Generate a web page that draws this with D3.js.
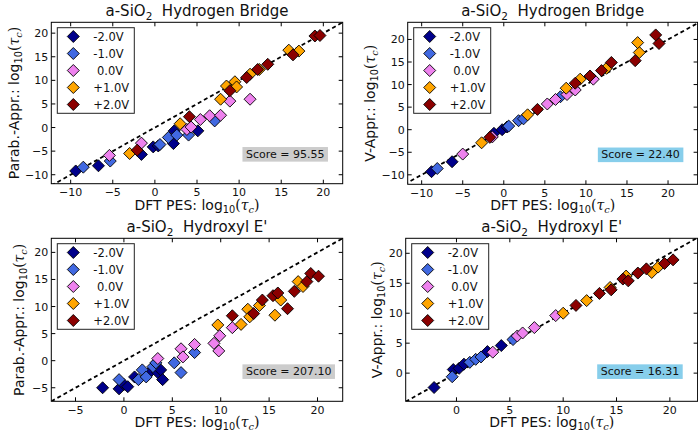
<!DOCTYPE html>
<html>
<head>
<meta charset="utf-8">
<script src="https://cdn.jsdelivr.net/npm/d3@7"></script>
<style>
  body { margin: 0; background: #fff; }
  svg { display: block; font-family: "DejaVu Sans", sans-serif; }
  text { white-space: pre; }
</style>
</head>
<body>
<div id="chart"></div>
<script>
'use strict';

// legend entries and marker colours, one per bias voltage
var voltages = ["-2.0V", "-1.0V", " 0.0V", "+1.0V", "+2.0V"];
var colours = ["#00008b", "#4169e1", "#ee82ee", "#ffa500", "#8b0000"];

// [DFT PES, approximation] pairs in log10(tau_c), one list per voltage

// a-SiO2 hydrogen bridge, parabolic approximation
var hbParab = [
	[[-9.4, -9.2], [-6.7, -8.1], [-1.6, -5.7], [-0.2, -4.1], [0.4, -3.9], [2.2, -3.4], [2.3, -0.7], [5.1, -0.7]],
	[[-8.5, -8.4], [-5.3, -7.1], [0.6, -3.6], [1.6, -2.1], [2.6, -1.6], [4.0, -1.6], [7.1, 1.4]],
	[[-5.4, -5.9], [-1.6, -3.3], [3.8, -0.4], [4.3, 0.1], [5.4, 1.7], [6.5, 2.5], [7.8, 2.6], [8.9, 5.6], [11.3, 6.0]],
	[[-3.0, -5.5], [3.0, 0.8], [7.8, 6.0], [8.5, 8.8], [9.5, 9.7], [9.7, 8.6], [11.3, 11.3], [12.4, 12.3], [15.9, 16.4], [17.1, 16.2]],
	[[-2.1, -4.8], [4.1, 2.3], [8.9, 7.8], [10.9, 10.6], [12.2, 12.3], [13.4, 13.4], [16.4, 15.4], [19.0, 19.4], [19.6, 19.5]]
];

// a-SiO2 hydrogen bridge, V approximation
var hbV = [
	[[-8.8, -9.3], [-6.3, -7.1], [-1.2, -0.8], [-0.2, 0.0], [0.4, 0.6]],
	[[-8.1, -8.6], [0.6, 0.8], [1.8, 2.0], [2.4, 2.4], [6.9, 7.3]],
	[[-5.0, -5.4], [-1.4, -1.6], [5.3, 5.7], [6.3, 6.7], [7.7, 7.8], [8.7, 8.8], [10.9, 11.2]],
	[[-2.7, -2.9], [2.9, 3.3], [7.6, 9.2], [9.3, 11.2], [12.5, 13.6], [16.5, 17.1], [16.3, 19.3]],
	[[-1.7, -1.7], [4.1, 4.5], [8.7, 10.3], [10.5, 11.9], [11.9, 13.1], [13.1, 14.9], [16.0, 15.3], [18.9, 19.1], [18.5, 21.0]]
];

// a-SiO2 hydroxyl E', parabolic approximation
var heParab = [
	[[-2.2, -5.0], [-0.5, -5.2], [0.0, -4.4], [0.4, -4.8], [1.1, -3.0], [2.8, -1.9], [3.5, -2.2], [3.8, -1.7], [4.0, -3.5]],
	[[-0.5, -3.5], [1.5, -3.5], [1.9, -1.7], [2.3, -3.0], [3.0, -1.1], [3.3, -0.4], [5.2, -0.4], [5.9, -2.2], [7.3, 1.5]],
	[[3.5, 0.4], [5.9, 2.2], [6.1, 0.7], [7.3, 3.0], [9.3, 3.2], [9.8, 1.8], [9.9, 4.6], [11.2, 6.1]],
	[[9.7, 6.6], [12.1, 6.7], [12.8, 9.5], [13.0, 8.1], [14.0, 10.2], [15.6, 8.4], [16.2, 11.2], [18.0, 14.6], [18.5, 13.7]],
	[[11.2, 8.3], [13.4, 8.7], [14.3, 11.2], [15.4, 12.0], [15.9, 12.5], [16.9, 9.6], [17.6, 12.8], [18.9, 14.6], [19.3, 16.1], [20.1, 15.6]]
];

// a-SiO2 hydroxyl E', V approximation
var heV = [
	[[-2.1, -2.4], [-0.3, 0.6], [0.25, 0.8], [0.7, 1.5], [2.9, 3.6], [4.2, 4.6]],
	[[-0.4, -0.6], [1.25, 1.8], [1.8, 2.3], [2.3, 2.7], [5.3, 5.6]],
	[[3.4, 3.5], [5.7, 6.2], [6.2, 6.7], [7.3, 7.6], [9.3, 9.6]],
	[[10.0, 10.0], [12.2, 12.1], [14.4, 14.3], [15.9, 16.2], [18.3, 16.8], [18.9, 17.7]],
	[[11.2, 11.3], [13.4, 13.3], [14.5, 13.9], [15.6, 15.7], [16.1, 15.4], [17.0, 16.7], [17.8, 17.4], [19.5, 18.3], [20.3, 18.9]]
];

var scores = ["95.55", "22.40", "207.10", "16.31"];
var titles = ["Hydrogen Bridge", "Hydrogen Bridge", "Hydroxyl E'", "Hydroxyl E'"];
var ylabels = ["Parab.-Appr.: log", "V-Appr.: log", "Parab.-Appr.: log", "V-Appr.: log"];
var ticks1 = [-10, -5, 0, 5, 10, 15, 20];
var ticks2 = [-5, 0, 5, 10, 15, 20];
var ticks3 = [0, 5, 10, 15, 20];


var width = 698;
var height = 432;

var svg = d3.select("#chart").append("svg")
	.attr("width", width)
	.attr("height", height);

// panel boxes in pixels and axis limits
var panels = [
	{ data: hbParab, box: [51.3, 22.3, 342.7, 183.7], xd: [-12.3, 22.3], yd: [-11.9, 22.3], ticks: ticks1, score: scores[0], scoreFill: "#cccccc", title: titles[0], ylabel: ylabels[0], ylabOff: 32 },
	{ data: hbV, box: [407.7, 22.3, 697.6, 184.3], xd: [-11.7, 23.6], yd: [-12.1, 23.8], ticks: ticks1, score: scores[1], scoreFill: "#87ceeb", title: titles[1], ylabel: ylabels[1], ylabOff: 33 },
	{ data: heParab, box: [51.3, 238.3, 342.7, 401.3], xd: [-7.5, 22.6], yd: [-7.5, 22.6], ticks: ticks2, score: scores[2], scoreFill: "#cccccc", title: titles[2], ylabel: ylabels[2], ylabOff: 27 },
	{ data: heV, box: [405.7, 238.3, 697.6, 401.3], xd: [-4.76, 22.6], yd: [-4.7, 22.5], ticks: ticks3, score: scores[3], scoreFill: "#87ceeb", title: titles[3], ylabel: ylabels[3], ylabOff: 24 }
];

var markerR = 6;

function diamond(r) {
	return "M0," + (-r) + "L" + r + ",0L0," + r + "L" + (-r) + ",0Z";
}

function fmt(v) {
	return v < 0 ? "\u2212" + Math.abs(v) : String(v);
}

// "log10(tau_c)" written the mathtext way
function addLogTau(t, size) {
	var sub = size * 0.22;
	t.append("tspan").text("10").attr("font-size", size * 0.7).attr("dy", sub);
	t.append("tspan").text("(").attr("font-family", "DejaVu Serif").attr("dy", -sub);
	t.append("tspan").text("\u03c4").attr("font-family", "DejaVu Serif").attr("font-style", "italic");
	t.append("tspan").text("c").attr("font-family", "DejaVu Serif").attr("font-style", "italic")
		.attr("font-size", size * 0.7).attr("dy", sub);
	t.append("tspan").text(")").attr("font-family", "DejaVu Serif").attr("dy", -sub);
}

panels.forEach(function (p, pi) {
	var x0 = p.box[0], y0 = p.box[1], x1 = p.box[2], y1 = p.box[3];
	var x = d3.scaleLinear().domain(p.xd).range([x0, x1]);
	var y = d3.scaleLinear().domain(p.yd).range([y1, y0]);
	var g = svg.append("g").attr("class", "panel");

	var clipId = "clip" + pi;
	g.append("clipPath").attr("id", clipId)
		.append("rect")
		.attr("x", x0).attr("y", y0)
		.attr("width", x1 - x0).attr("height", y1 - y0);

	// y = x guide
	var lo = Math.min(p.xd[0], p.yd[0]), hi = Math.max(p.xd[1], p.yd[1]);
	g.append("line")
		.attr("clip-path", "url(#" + clipId + ")")
		.attr("x1", x(lo)).attr("y1", y(lo))
		.attr("x2", x(hi)).attr("y2", y(hi))
		.attr("stroke", "#000")
		.attr("stroke-width", 1.8)
		.attr("stroke-dasharray", "4,3");

	// markers, one series per voltage
	p.data.forEach(function (series, si) {
		g.append("g").selectAll("path")
			.data(series)
			.enter()
			.append("path")
			.attr("d", diamond(markerR))
			.attr("transform", function (d) {
				return "translate(" + x(d[0]) + "," + y(d[1]) + ")";
			})
			.attr("fill", colours[si])
			.attr("stroke", "#000")
			.attr("stroke-width", 0.9);
	});

	// axes: ticks inward on all four sides
	var tickLen = 4;
	var xt = p.ticks.filter(function (v) { return v >= p.xd[0] && v <= p.xd[1]; });
	var yt = p.ticks.filter(function (v) { return v >= p.yd[0] && v <= p.yd[1]; });
	var tk = g.append("g").attr("stroke", "#000").attr("stroke-width", 1);
	xt.forEach(function (v) {
		tk.append("line").attr("x1", x(v)).attr("x2", x(v)).attr("y1", y1).attr("y2", y1 - tickLen);
		tk.append("line").attr("x1", x(v)).attr("x2", x(v)).attr("y1", y0).attr("y2", y0 + tickLen);
	});
	yt.forEach(function (v) {
		tk.append("line").attr("y1", y(v)).attr("y2", y(v)).attr("x1", x0).attr("x2", x0 + tickLen);
		tk.append("line").attr("y1", y(v)).attr("y2", y(v)).attr("x1", x1).attr("x2", x1 - tickLen);
	});

	g.selectAll(".xtick")
		.data(xt)
		.enter()
		.append("text")
		.attr("class", "xtick")
		.attr("x", function (v) { return x(v); })
		.attr("y", y1 + 12.5)
		.attr("text-anchor", "middle")
		.attr("font-size", 11)
		.attr("fill", "#111")
		.text(fmt);

	g.selectAll(".ytick")
		.data(yt)
		.enter()
		.append("text")
		.attr("class", "ytick")
		.attr("x", x0 - 3)
		.attr("y", function (v) { return y(v) + 4; })
		.attr("text-anchor", "end")
		.attr("font-size", 11)
		.attr("fill", "#111")
		.text(fmt);

	g.append("rect")
		.attr("x", x0).attr("y", y0)
		.attr("width", x1 - x0).attr("height", y1 - y0)
		.attr("fill", "none")
		.attr("stroke", "#000")
		.attr("stroke-width", 1);

	// title with subscript
	var title = g.append("text")
		.attr("x", (x0 + x1) / 2)
		.attr("y", y0 - 6)
		.attr("text-anchor", "middle")
		.attr("font-size", 15)
		.attr("fill", "#111");
	title.append("tspan").text("a-SiO");
	title.append("tspan").text("2").attr("font-size", 10.5).attr("dy", 3.8);
	title.append("tspan").text("  " + p.title).attr("dy", -3.8);

	// axis labels
	var xl = g.append("text")
		.attr("x", (x0 + x1) / 2)
		.attr("y", Math.min(y1 + 26, height - 5.5))
		.attr("text-anchor", "middle")
		.attr("font-size", 14)
		.attr("fill", "#111");
	xl.append("tspan").text("DFT PES: log");
	addLogTau(xl, 14);

	var yl = g.append("text")
		.attr("transform", "translate(" + (x0 - p.ylabOff) + "," + ((y0 + y1) / 2) + ") rotate(-90)")
		.attr("text-anchor", "middle")
		.attr("font-size", 14)
		.attr("fill", "#111");
	yl.append("tspan").text(p.ylabel);
	addLogTau(yl, 14);

	// legend
	var lx = x0 + 6, ly = y0 + 5.4;
	var lg = g.append("g").attr("transform", "translate(" + lx + "," + ly + ")");
	lg.append("rect")
		.attr("width", 77).attr("height", 85.6)
		.attr("fill", "#fff")
		.attr("stroke", "#222")
		.attr("stroke-width", 1);
	var row = lg.selectAll(".entry")
		.data(voltages)
		.enter()
		.append("g")
		.attr("class", "entry")
		.attr("transform", function (d, i) {
			return "translate(0," + (8.8 + i * 17) + ")";
		});
	row.append("path")
		.attr("d", diamond(markerR))
		.attr("transform", "translate(16,0)")
		.attr("fill", function (d, i) { return colours[i]; })
		.attr("stroke", "#000")
		.attr("stroke-width", 0.9);
	row.append("text")
		.attr("x", 36)
		.attr("y", 4)
		.attr("font-size", 11.5)
		.attr("fill", "#111")
		.text(function (d) { return d; });

	// score annotation
	var sx = x0 + 0.668 * (x1 - x0);
	var sy = y1 - 0.185 * (y1 - y0);
	var sb = g.append("rect").attr("fill", p.scoreFill);
	var st = g.append("text")
		.attr("x", sx)
		.attr("y", sy + 4)
		.attr("font-size", 11)
		.attr("fill", "#111")
		.text("Score = " + p.score);
	var bb = st.node().getBBox();
	sb.attr("x", bb.x - 3.5).attr("y", bb.y - 0.8)
		.attr("width", bb.width + 7).attr("height", bb.height + 1.6);
});
</script>
</body>
</html>
